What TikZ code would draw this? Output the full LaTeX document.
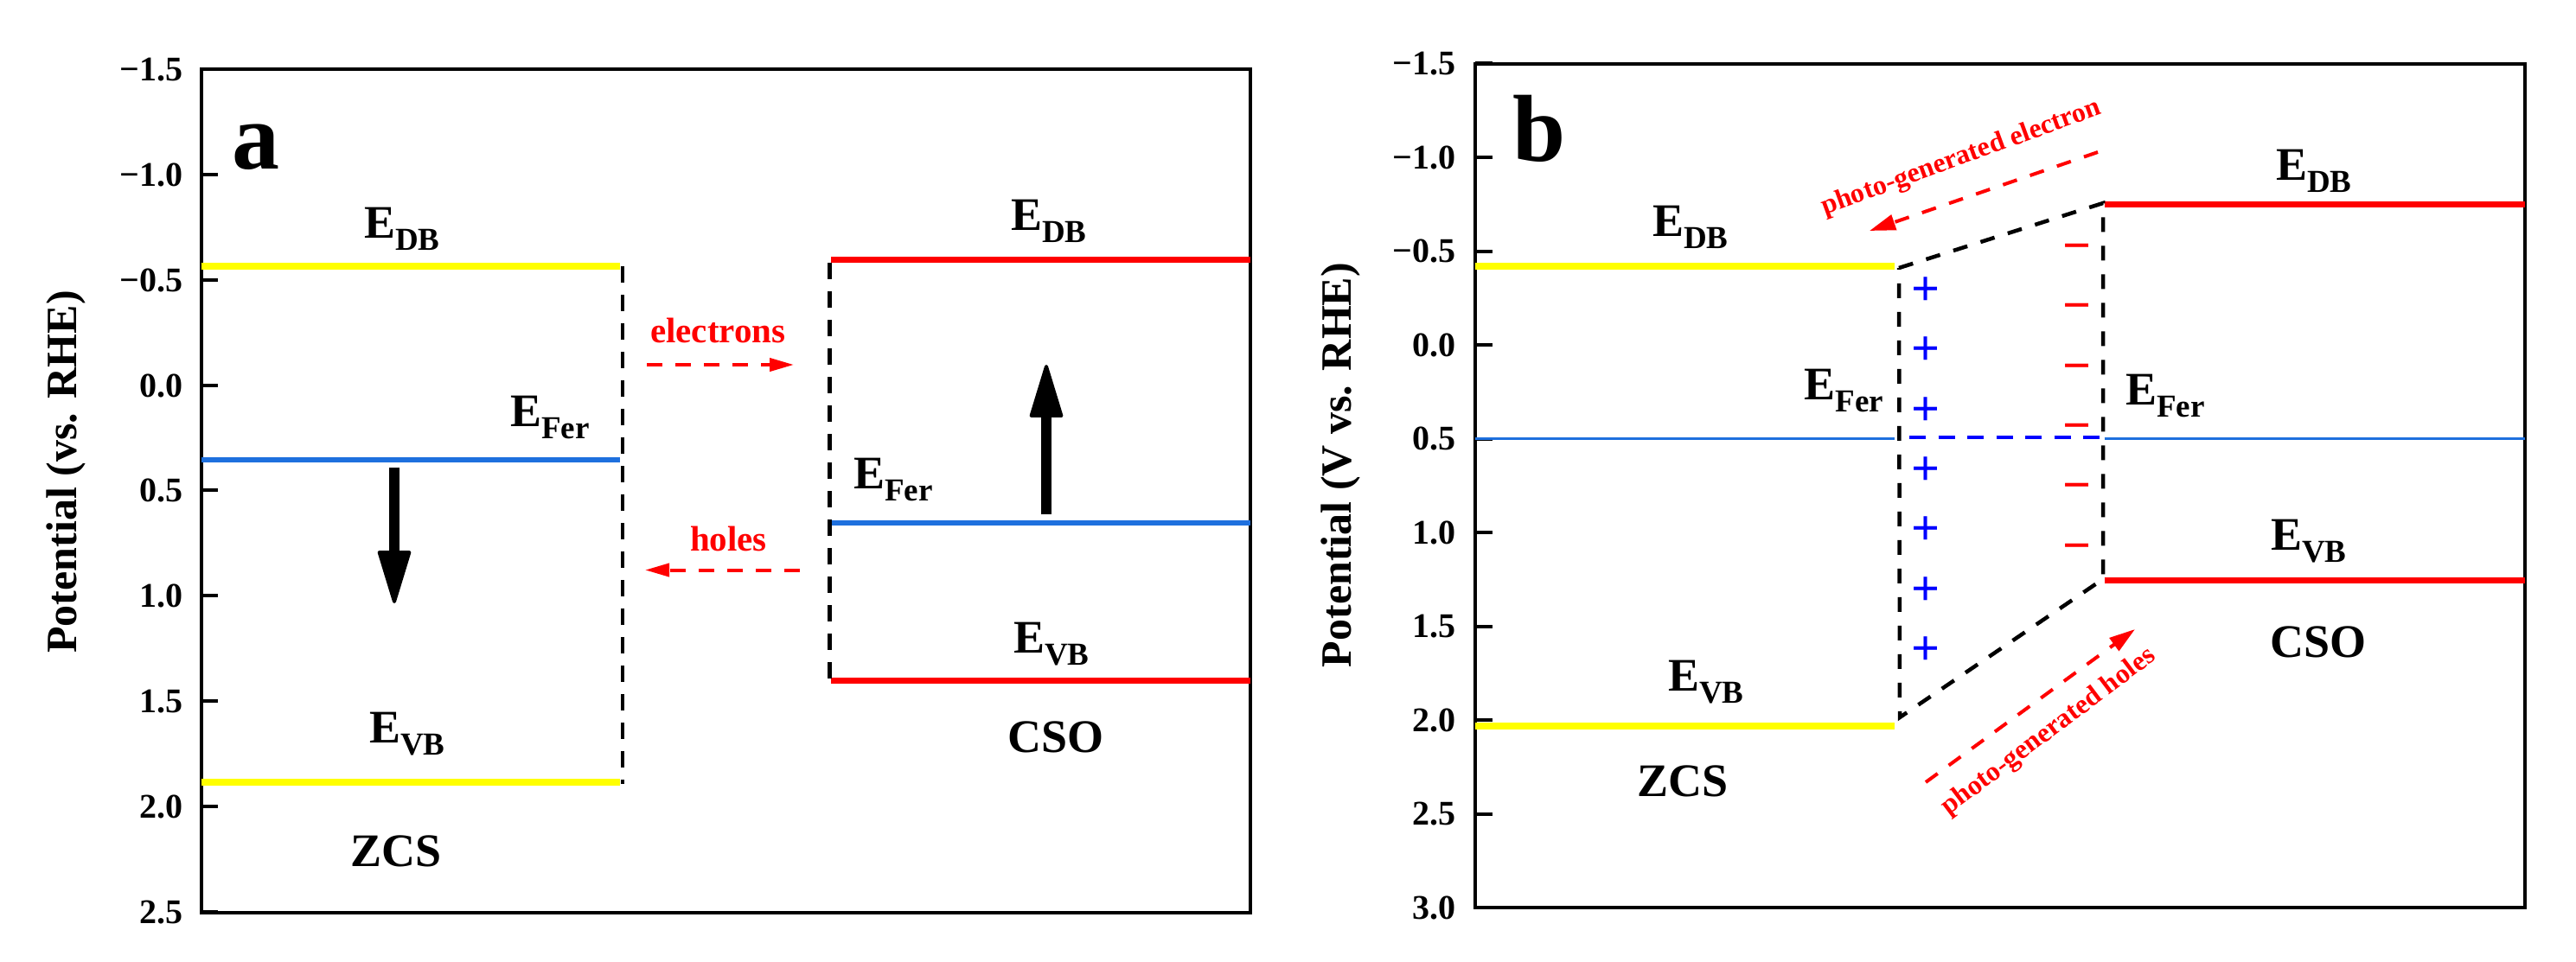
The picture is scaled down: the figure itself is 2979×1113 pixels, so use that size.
\documentclass[tikz,border=0pt]{standalone}
\usepackage{fontspec}
\setmainfont{Liberation Serif}
\usetikzlibrary{arrows.meta}
\definecolor{lvblue}{RGB}{30,112,222}
\definecolor{pblue}{RGB}{0,0,255}
\definecolor{pred}{RGB}{255,0,0}
\definecolor{pyellow}{RGB}{255,255,0}
\newcommand{\Elab}[1]{E\raisebox{-14pt}{\fontsize{37}{37}\selectfont #1}}
\begin{document}
\begin{tikzpicture}[x=1pt,y=-1pt,
  lab/.style={inner sep=0pt, outer sep=0pt, anchor=base west, font=\bfseries\fontsize{54}{54}\selectfont},
  redlab/.style={inner sep=0pt, outer sep=0pt, anchor=base west, text=pred, font=\bfseries\fontsize{41}{41}\selectfont},
  rotlab/.style={inner sep=0pt, outer sep=0pt, anchor=base, text=pred, font=\bfseries\fontsize{32}{32}\selectfont},
  panel/.style={inner sep=0pt, outer sep=0pt, anchor=base west, font=\bfseries\fontsize{110}{110}\selectfont},
  ticklab/.style={inner sep=0pt, outer sep=0pt, anchor=base east, font=\bfseries\fontsize{40}{40}\selectfont},
  axlab/.style={inner sep=0pt, outer sep=0pt, rotate=90, font=\bfseries\fontsize{50}{50}\selectfont},
  charge/.style={inner sep=0pt, outer sep=0pt, font=\bfseries\fontsize{58}{58}\selectfont},
  frame/.style={line width=4pt},
  lvlY/.style={line width=8pt, draw=pyellow},
  lvlR/.style={line width=7pt, draw=pred},
  lvlB/.style={line width=6pt, draw=lvblue},
  lvlBthin/.style={line width=3.5pt, draw=lvblue},
  dashblack/.style={line width=4.5pt, dash pattern=on 19pt off 14pt},
  dashquad/.style={line width=4.5pt, dash pattern=on 17pt off 16pt},
  dashblue/.style={line width=4.5pt, draw=pblue, dash pattern=on 19pt off 14.5pt},
  redarrA/.style={line width=4pt, draw=pred, dash pattern=on 18pt off 15pt, -{Triangle[length=28pt,width=15pt,fill=pred]}},
  redarrB/.style={line width=4pt, draw=pred, dash pattern=on 17pt off 16pt, -{Triangle[length=30pt,width=18pt,fill=pred]}},
  bigarrow/.style={line width=12.5pt, -{Triangle[length=66pt,width=39pt,line width=4pt,round]}}
]
\fill[white] (0,0) rectangle (2979,1113);
\useasboundingbox (0,0) rectangle (2979,1113);

% ================= panel a =================
\draw[frame] (232.7,80.3) rectangle (1446,1056);
\foreach \v/\t [count=\i] in {-1.5/−1.5,-1.0/−1.0,-0.5/−0.5,0.0/0.0,0.5/0.5,1.0/1.0,1.5/1.5,2.0/2.0,2.5/2.5} {
  \pgfmathsetmacro{\yy}{445.5+243.9*\v}
  \draw[frame] (232.7,\yy) -- (252,\yy);
  \node[ticklab] (ta\i) at (211,\yy+13.5) {\t};
}
\node[axlab] (ylabA) at (76,546) {Potential (vs. RHE)};
\node[panel] (pa) at (268,195) {a};

% ZCS levels
\draw[lvlY] (232.7,307.7) -- (717,307.7);
\draw[lvlB] (232.7,532) -- (717,532);
\draw[lvlY] (232.7,904.7) -- (717,904.7);
\coordinate (za1) at (720,308);
\coordinate (za2) at (720,907);
\draw[dashblack] (za1) -- (za2);
% CSO levels
\draw[lvlR] (961,300) -- (1446,300);
\draw[lvlB] (961,604.6) -- (1446,604.6);
\draw[lvlR] (961,787.7) -- (1446,787.7);
\coordinate (ca1) at (959.6,304);
\coordinate (ca2) at (959.6,789);
\draw[dashblack] (ca1) -- (ca2);

% big arrows
\coordinate (dn1) at (456,541);
\coordinate (dn2) at (456,698);
\draw[bigarrow] (dn1) -- (dn2);
\coordinate (up1) at (1210,595);
\coordinate (up2) at (1210,422);
\draw[bigarrow] (up1) -- (up2);

% transfer arrows
\coordinate (el1) at (748,422);
\coordinate (el2) at (918,422);
\draw[redarrA] (el1) -- (el2);
\coordinate (ho1) at (925,659.5);
\coordinate (ho2) at (746,659.5);
\draw[redarrA] (ho1) -- (ho2);
\node[redlab] (elA) at (752,396) {electrons};
\node[redlab] (hoA) at (798,637) {holes};

% labels
\node[lab] (edbA1) at (421,275) {\Elab{DB}};
\node[lab] (efA1) at (590,493) {\Elab{Fer}};
\node[lab] (evbA1) at (427,859) {\Elab{VB}};
\node[lab] (zcsA) at (405,1002) {ZCS};
\node[lab] (edbA2) at (1169,266) {\Elab{DB}};
\node[lab] (efA2) at (987,565) {\Elab{Fer}};
\node[lab] (evbA2) at (1172,755) {\Elab{VB}};
\node[lab] (csoA) at (1165,870) {CSO};

% ================= panel b =================
\draw[frame] (1706,74) rectangle (2920,1050);
\foreach \v/\t [count=\i] in {-1.5/−1.5,-1.0/−1.0,-0.5/−0.5,0.0/0.0,0.5/0.5,1.0/1.0,1.5/1.5,2.0/2.0,2.5/2.5,3.0/3.0} {
  \pgfmathsetmacro{\yy}{399+217*\v}
  \draw[frame] (1706,\yy) -- (1725.5,\yy);
  \node[ticklab] (tb\i) at (1683,\yy+13.3) {\t};
}
\node[axlab] (ylabB) at (1550,538) {Potential (V vs. RHE)};
\node[panel] (pb) at (1749,186) {b};

% levels
\draw[lvlY] (1706,307.7) -- (2191,307.7);
\draw[lvlBthin] (1706,507.7) -- (2191,507.7);
\draw[lvlY] (1706,840) -- (2191,840);
\draw[lvlR] (2433.5,236.7) -- (2920,236.7);
\draw[lvlBthin] (2433.5,507.7) -- (2920,507.7);
\draw[lvlR] (2433.5,671) -- (2920,671);

% depletion region
\coordinate (qa) at (2196,310);
\coordinate (qb) at (2432,235);
\coordinate (qc) at (2432,670);
\coordinate (qd) at (2197,830);
\draw[dashquad] (qa) -- (qb) -- (qc) -- (qd) -- cycle;
\coordinate (bd1) at (2208,506);
\coordinate (bd2) at (2428,506);
\draw[dashblue] (bd1) -- (bd2);

\foreach \yy [count=\i] in {337,406,476,545,614,684,753}
  \node[charge, text=pblue] (plus\i) at (2227,\yy) {\vphantom{+}+};
\foreach \yy [count=\i] in {287,356,426,495,564,634}
  \node[charge, text=pred] (minus\i) at (2402,\yy) {\vphantom{+}−};

% photo-generated arrows
\coordinate (pe1) at (2426,176);
\coordinate (pe2) at (2162,267);
\draw[redarrB] (pe1) -- (pe2);
\coordinate (ph1) at (2227,905);
\coordinate (ph2) at (2469,728);
\draw[redarrB] (ph1) -- (ph2);
\node[rotlab, rotate=20] (peT) at (2271,190) {photo-generated electron};
\node[rotlab, rotate=37] (phT) at (2374,853) {photo-generated holes};

% labels
\node[lab] (edbB1) at (1911,273) {\Elab{DB}};
\node[lab] (efB1) at (2086.5,462) {\Elab{Fer}};
\node[lab] (evbB1) at (1929,799.5) {\Elab{VB}};
\node[lab] (zcsB) at (1893.6,921.6) {ZCS};
\node[lab] (edbB2) at (2632,208) {\Elab{DB}};
\node[lab] (efB2) at (2458,468) {\Elab{Fer}};
\node[lab] (evbB2) at (2626,636) {\Elab{VB}};
\node[lab] (csoB) at (2625,760) {CSO};
\end{tikzpicture}
\end{document}
